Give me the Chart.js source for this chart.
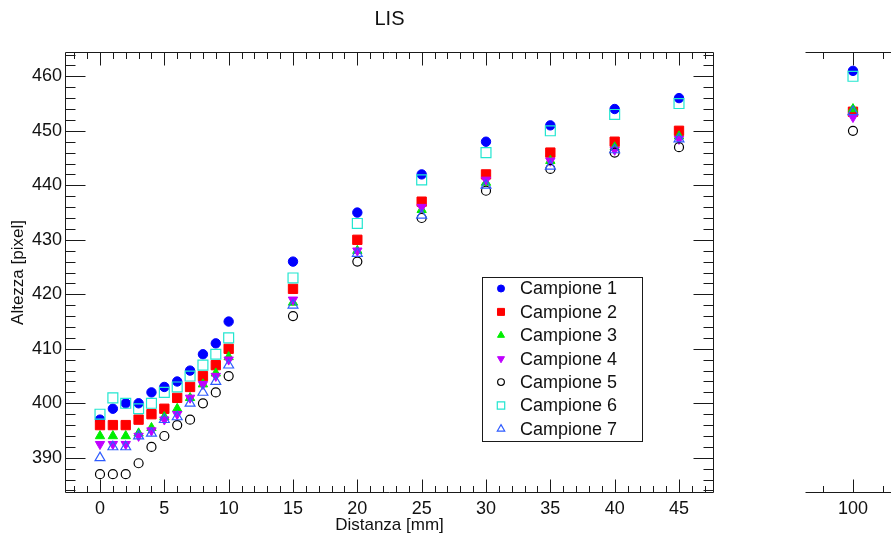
<!DOCTYPE html>
<html>
<head>
<meta charset="utf-8">
<script src="https://cdn.jsdelivr.net/npm/chart.js"></script>
<style>
  html, body { margin: 0; padding: 0; background: #fff; overflow: hidden; }
  #principale { position: absolute; left: 0; top: 0; }
  #destra { position: absolute; left: 780px; top: 0; }
</style>
</head>
<body>
<canvas id="principale" width="891" height="537"></canvas>
<canvas id="destra" width="200" height="537"></canvas>
<script>
// dati
const distanze = [0, 1, 2, 3, 4, 5, 6, 7, 8, 9, 10, 15, 20, 25, 30, 35, 40, 45, 100]

const campione1 = [397, 399, 400, 400, 402, 403, 404, 406, 409, 411, 415, 426, 435, 442, 448, 451, 454, 456, 461]
const campione2 = [396, 396, 396, 397, 398, 399, 401, 403, 405, 407, 410, 421, 430, 437, 442, 446, 448, 450, 453.5]
const campione3 = [394, 394, 394, 394.5, 395.5, 397.5, 399, 401, 403.5, 405.5, 408.5, 418.5, 428, 435.5, 440.5, 444.5, 447, 449, 454]
const campione4 = [392.5, 392.5, 392.5, 394, 395, 397, 398, 401, 403.5, 405, 408, 419, 428, 436, 441, 444.5, 446.5, 448.5, 452.5]
const campione5 = [387, 387, 387, 389, 392, 394, 396, 397, 400, 402, 405, 416, 426, 434, 439, 443, 446, 447, 450]
const campione6 = [398, 401, 400, 399, 400, 402, 403, 405, 407, 409, 412, 423, 433, 441, 446, 450, 453, 455, 460]
const campione7 = [390, 392, 392, 394, 394.5, 397, 397.5, 400, 402, 404, 407, 418, 427.5, 434.5, 440, 443.5, 446.5, 448.5, 453.5]

const etichette = ['Campione 1', 'Campione 2', 'Campione 3', 'Campione 4', 'Campione 5', 'Campione 6', 'Campione 7']
const tickX = [0, 5, 10, 15, 20, 25, 30, 35, 40, 45]
const tickXDestra = [100]
const tickY = [390, 400, 410, 420, 430, 440, 450, 460]

const serie = [campione1, campione2, campione3, campione4, campione5, campione6, campione7]

const FONT = '"Liberation Sans", Arial, Helvetica, sans-serif'
const INK = '#111'

// marker stile ROOT
const stili = [
  { colore: '#0000ff', forma: 'circle', pieno: true, r: 4.7 },
  { colore: '#ff0000', forma: 'rect', pieno: true, r: 6.6 },
  { colore: '#00ee00', forma: 'triangle', pieno: true, r: 5.4 },
  { colore: '#c000ff', forma: 'triangle', pieno: true, r: 5.4, rot: 180 },
  { colore: '#000000', forma: 'circle', pieno: false, r: 4.5 },
  { colore: '#22e6d0', forma: 'rect', pieno: false, r: 7 },
  { colore: '#2f5cff', forma: 'triangle', pieno: false, r: 5.7 }
]

const creaDataset = (filtro) => serie.map((valori, i) => {
  const s = stili[i]
  return {
    label: etichette[i],
    data: distanze.map((x, j) => ({ x, y: valori[j] })).filter(p => filtro(p.x)),
    pointStyle: s.forma,
    pointRotation: s.rot || 0,
    pointRadius: s.r,
    pointHoverRadius: s.r,
    pointBackgroundColor: s.pieno ? s.colore : 'rgba(0,0,0,0)',
    pointBorderColor: s.colore,
    pointBorderWidth: s.pieno ? 1 : 1.2,
    showLine: false,
    order: 7 - i
  }
})

// cornice con tacche verso l'interno, come in ROOT
const cornice = {
  id: 'cornice',
  beforeDatasetsDraw(chart, args, opts) {
    const { ctx, chartArea: a, scales } = chart
    const L = Math.round(a.left) + 0.5
    const R = Math.round(a.right) - 0.5
    const T = Math.round(a.top) + 0.5
    const B = Math.round(a.bottom) - 0.5
    ctx.save()
    ctx.strokeStyle = '#1a1a1a'
    ctx.lineWidth = 1
    ctx.beginPath()
    ctx.moveTo(L, T); ctx.lineTo(R, T)
    ctx.moveTo(L, B); ctx.lineTo(R, B)
    if (opts.verticali) {
      ctx.moveTo(L, T); ctx.lineTo(L, B)
      ctx.moveTo(R, T); ctx.lineTo(R, B)
    }
    const x = scales.x
    for (let v = Math.ceil(x.min); v <= x.max; v += 1) {
      const px = Math.round(x.getPixelForValue(v)) + 0.5
      const len = v % opts.majorX === 0 ? 13 : 6.5
      ctx.moveTo(px, B); ctx.lineTo(px, B - len)
      ctx.moveTo(px, T); ctx.lineTo(px, T + len)
    }
    if (opts.verticali) {
      const y = scales.y
      for (let v = Math.ceil(y.min / 2) * 2; v <= y.max; v += 2) {
        const py = Math.round(y.getPixelForValue(v)) + 0.5
        const len = v % 10 === 0 ? 20 : 10
        ctx.moveTo(L, py); ctx.lineTo(L + len, py)
        ctx.moveTo(R, py); ctx.lineTo(R - len, py)
      }
    }
    ctx.stroke()
    ctx.restore()
  }
}

// legenda dentro il grafico
const legenda = {
  id: 'legenda',
  afterDatasetsDraw(chart) {
    const ctx = chart.ctx
    ctx.save()
    ctx.fillStyle = '#fff'
    ctx.fillRect(482, 277, 161, 165)
    ctx.strokeStyle = '#1a1a1a'
    ctx.lineWidth = 1
    ctx.strokeRect(482.5, 277.5, 160, 164)
    chart.data.datasets.forEach((ds, i) => {
      const y = 288.5 + i * 23.4
      ctx.fillStyle = ds.pointBackgroundColor
      ctx.strokeStyle = ds.pointBorderColor
      ctx.lineWidth = ds.pointBorderWidth
      if (Chart.helpers && Chart.helpers.drawPoint) {
        Chart.helpers.drawPoint(ctx, {
          pointStyle: ds.pointStyle,
          rotation: ds.pointRotation,
          radius: ds.pointRadius * 0.75,
          borderWidth: ds.pointBorderWidth
        }, 501, y)
      }
      ctx.fillStyle = INK
      ctx.font = '18px ' + FONT
      ctx.textBaseline = 'middle'
      ctx.fillText(ds.label, 520, y + 1)
    })
    ctx.restore()
  }
}

const Y_MIN = 383.54
const Y_MAX = 464.46
const noGrid = { display: false, drawTicks: false, tickLength: 0 }

new Chart(document.getElementById('principale'), {
  type: 'scatter',
  data: { datasets: creaDataset(x => x <= 50) },
  options: {
    responsive: false,
    animation: false,
    devicePixelRatio: 1,
    layout: { padding: { left: 0, right: 177, top: 0, bottom: 0 } },
    plugins: {
      legend: { display: false },
      tooltip: { enabled: false },
      title: {
        display: true,
        text: 'LIS',
        fullSize: false,
        color: INK,
        font: { family: FONT, size: 20, weight: 'normal' },
        padding: { top: 7, bottom: 21 }
      },
      cornice: { verticali: true, majorX: 5 }
    },
    scales: {
      x: {
        type: 'linear',
        min: -2.72,
        max: 47.72,
        grid: noGrid,
        border: { display: false },
        afterFit: s => { s.height = 44 },
        ticks: {
          stepSize: 5,
          includeBounds: false,
          autoSkip: false,
          maxRotation: 0,
          padding: 5,
          color: INK,
          font: { family: FONT, size: 18 },
          callback: v => tickX.includes(v) ? String(v) : ''
        },
        title: {
          display: true,
          text: 'Distanza [mm]',
          color: INK,
          font: { family: FONT, size: 17 },
          padding: { top: 0, bottom: 1 }
        }
      },
      y: {
        min: Y_MIN,
        max: Y_MAX,
        grid: noGrid,
        border: { display: false },
        afterFit: s => { s.width = 65 },
        ticks: {
          stepSize: 10,
          includeBounds: false,
          padding: 3,
          color: INK,
          font: { family: FONT, size: 18 },
          callback: v => tickY.includes(v) ? String(v) : ''
        },
        title: {
          display: true,
          text: 'Altezza [pixel]',
          color: INK,
          font: { family: FONT, size: 17 },
          padding: { top: 8, bottom: 0 }
        }
      }
    }
  },
  plugins: [cornice, legenda]
})

// secondo pannello (asse spezzato), x = 100
new Chart(document.getElementById('destra'), {
  type: 'scatter',
  data: { datasets: creaDataset(x => x >= 100) },
  options: {
    responsive: false,
    animation: false,
    devicePixelRatio: 1,
    layout: { padding: { left: 25, right: 20, top: 52, bottom: 0 } },
    plugins: {
      legend: { display: false },
      tooltip: { enabled: false },
      cornice: { verticali: false, majorX: 100 }
    },
    scales: {
      x: {
        type: 'linear',
        min: 98.4,
        max: 103.57,
        grid: noGrid,
        border: { display: false },
        afterFit: s => { s.height = 44 },
        ticks: {
          stepSize: 1,
          includeBounds: false,
          autoSkip: false,
          maxRotation: 0,
          padding: 5,
          color: INK,
          font: { family: FONT, size: 18 },
          callback: v => tickXDestra.includes(v) ? String(v) : ''
        }
      },
      y: {
        display: false,
        min: Y_MIN,
        max: Y_MAX
      }
    }
  },
  plugins: [cornice]
})
</script>
</body>
</html>
